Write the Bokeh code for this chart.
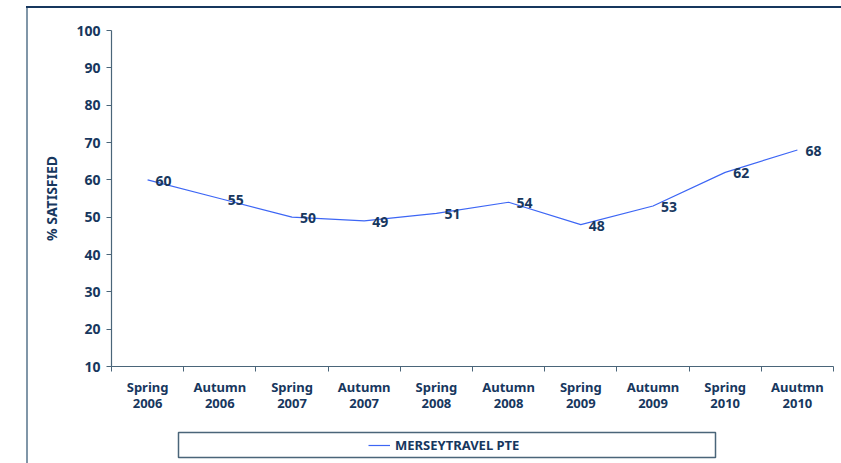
from bokeh.plotting import figure
from bokeh.models import (Range1d, FixedTicker, CustomJSTickFormatter, LinearAxis,
                          Legend, LegendItem, ColumnDataSource, Spacer, BoxAnnotation)
from bokeh.layouts import column, row
from bokeh.core.properties import value
from bokeh.embed import file_html
from bokeh.resources import INLINE

# ---- data ----
categories = ["Spring 2006", "Autumn 2006", "Spring 2007", "Autumn 2007", "Spring 2008",
              "Autumn 2008", "Spring 2009", "Autumn 2009", "Spring 2010", "Auutmn 2010"]
satisfied = [60, 55, 50, 49, 51, 54, 48, 53, 62, 68]
series_name = "MERSEYTRAVEL PTE"
y_ticks = [10, 20, 30, 40, 50, 60, 70, 80, 90, 100]
y_label = "% SATISFIED"

# ---- style ----
FONT = "Noto Sans"
TXT = "#17375E"
AX = "#4A6579"
LINE = "#3D66F5"
NAVY = "#17375E"
GREY = "#8096A8"
FS = "13px"
FSN = "14px"   # numbers (tick values and data labels)

n = len(categories)
centers = [i + 0.5 for i in range(n)]

PW = 813          # width of chart area inside the outer border lines
BL, BR = 83, 8    # left / right borders of the plotting frame

p = figure(width=PW, height=412, output_backend="svg", toolbar_location=None,
           x_range=Range1d(0, n), y_range=Range1d(y_ticks[0], y_ticks[-1]),
           x_axis_type=None, y_axis_type=None,
           min_border_left=BL, min_border_right=BR, min_border_top=22, min_border_bottom=54)
p.outline_line_color = None
p.background_fill_color = "white"
p.border_fill_color = "white"

yaxis = LinearAxis(ticker=FixedTicker(ticks=y_ticks),
                   axis_line_color=AX, axis_line_width=1.2,
                   major_tick_line_color=AX, major_tick_out=5, major_tick_in=0,
                   minor_tick_line_color=None,
                   major_label_text_font=FONT, major_label_text_font_size=FSN,
                   major_label_text_font_style="bold", major_label_text_color=TXT,
                   major_label_standoff=6,
                   axis_label=y_label, axis_label_text_font=FONT,
                   axis_label_text_font_size=FSN, axis_label_text_font_style="bold",
                   axis_label_text_color=TXT, axis_label_standoff=12)
p.add_layout(yaxis, "left")

xaxis = LinearAxis(ticker=FixedTicker(ticks=centers, minor_ticks=list(range(n + 1))),
                   formatter=CustomJSTickFormatter(
                       args=dict(labels=[c.replace(" ", "\n") for c in categories]),
                       code="return labels[Math.round(tick - 0.5)];"),
                   axis_line_color=AX, axis_line_width=1.2,
                   major_tick_line_color=None, major_tick_out=0, major_tick_in=0,
                   minor_tick_line_color=AX, minor_tick_out=5, minor_tick_in=0,
                   major_label_text_font=FONT, major_label_text_font_size=FS,
                   major_label_text_font_style="bold", major_label_text_color=TXT,
                   major_label_text_line_height=0.9,
                   major_label_standoff=6)
p.add_layout(xaxis, "below")

src = ColumnDataSource(dict(x=centers, y=satisfied, lab=[str(v) for v in satisfied]))
p.line("x", "y", source=src, line_color=LINE, line_width=1.2)
p.text("x", "y", text="lab", source=src, x_offset=8, y_offset=1,
       text_align="left", text_baseline="middle", text_font=value(FONT),
       text_font_size=FSN, text_font_style="bold", text_color=TXT)

# ---- legend strip: a small figure with the same frame borders, box drawn inside ----
FW = PW - BL - BR   # frame width in px
LH = 43
p2 = figure(width=PW, height=LH, output_backend="svg", toolbar_location=None,
            x_range=Range1d(0, FW), y_range=Range1d(0, LH),
            x_axis_type=None, y_axis_type=None,
            min_border_left=BL, min_border_right=BR, min_border_top=0, min_border_bottom=0)
p2.outline_line_color = None
p2.background_fill_color = "white"
p2.border_fill_color = "white"
p2.add_layout(BoxAnnotation(left=67, right=604, top=LH - 12, bottom=LH - 37,
                            fill_color=None, fill_alpha=0,
                            line_color=AX, line_alpha=1.0, line_width=1.5))
# legend key renderer (a single undefined point, so nothing is drawn in the strip)
key_src = ColumnDataSource(dict(x=[float("nan")], y=[float("nan")]))
r2 = p2.line("x", "y", source=key_src, line_color=LINE, line_width=1.2)
legend = Legend(items=[LegendItem(label=series_name, renderers=[r2])],
                location=(257, 8), padding=0, margin=0, spacing=0,
                glyph_width=22, glyph_height=20, label_height=20, label_standoff=5,
                border_line_color=None, background_fill_alpha=0,
                label_text_font=FONT, label_text_font_size=FS,
                label_text_font_style="bold", label_text_color=TXT)
p2.add_layout(legend)

# ---- outer border lines (top navy, left grey) ----
layout = column(
    Spacer(width=841, height=6),
    row(Spacer(width=26, height=2),
        Spacer(width=815, height=2, styles={"background-color": NAVY})),
    row(Spacer(width=26, height=455),
        Spacer(width=2, height=455, styles={"background-color": GREY}),
        column(p, p2)),
)

open("out.html", "w").write(file_html(layout, INLINE))
